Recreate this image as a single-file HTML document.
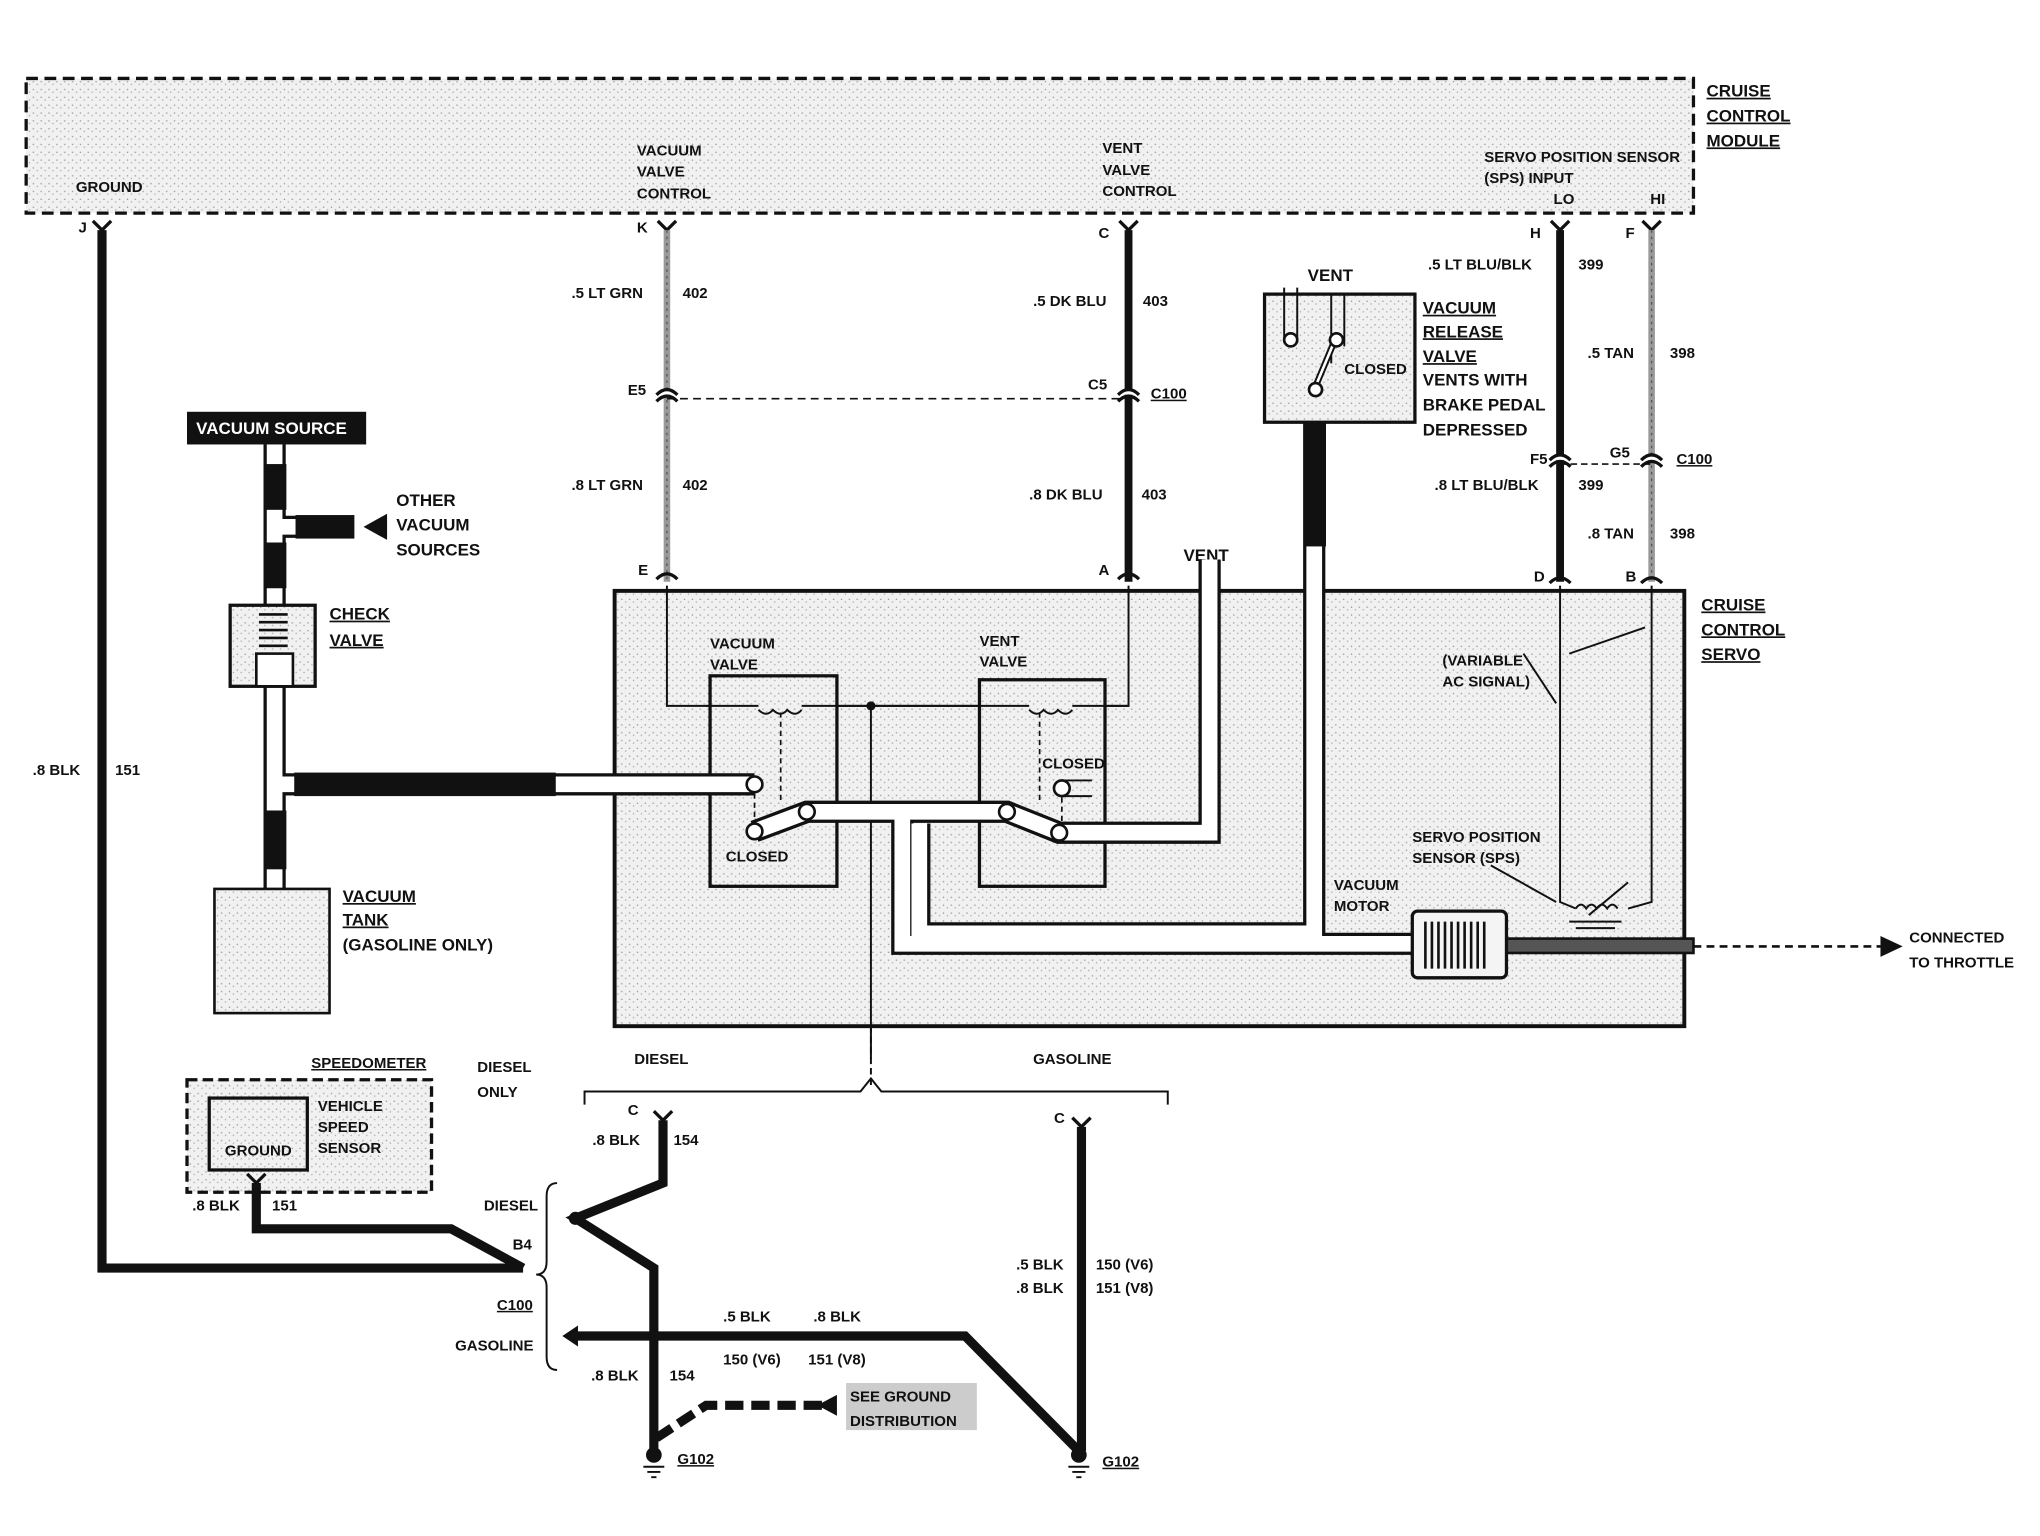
<!DOCTYPE html>
<html><head><meta charset="utf-8"><style>
html,body{margin:0;padding:0;background:#fff;}
svg{display:block;}
text{font-family:"Liberation Sans",sans-serif;font-weight:bold;font-size:11.5px;fill:#111;}
.u{text-decoration:underline;}
.big{font-size:13px;}
</style></head><body>
<svg width="2040" height="1536" viewBox="0 0 1560 1175" preserveAspectRatio="none" xmlns="http://www.w3.org/2000/svg">
<defs>
<pattern id="st" width="6" height="6" patternUnits="userSpaceOnUse"><rect width="6" height="6" fill="#f1f1f1"/><rect x="1" y="2" width="1" height="1" fill="#999"/><rect x="4" y="4" width="1" height="1" fill="#aaa"/></pattern>
</defs>
<!-- module box -->
<rect x="20" y="60" width="1275" height="103" fill="url(#st)" stroke="#111" stroke-width="2.5" stroke-dasharray="9,5"/>
<text x="1305" y="74" class="u big">CRUISE</text><text x="1305" y="93" class="u big">CONTROL</text><text x="1305" y="112" class="u big">MODULE</text>
<text x="58" y="147">GROUND</text>
<text x="487" y="119">VACUUM</text><text x="487" y="135">VALVE</text><text x="487" y="152">CONTROL</text>
<text x="843" y="117">VENT</text><text x="843" y="134">VALVE</text><text x="843" y="150">CONTROL</text>
<text x="1135" y="124">SERVO POSITION SENSOR</text><text x="1135" y="140">(SPS) INPUT</text>
<text x="1188" y="156">LO</text><text x="1262" y="156">HI</text>
<!-- pins -->
<g stroke="#111" stroke-width="2.5" fill="none">
<path d="M71,169 L78,176 L85,169"/><path d="M503,169 L510,176 L517,169"/><path d="M856,169 L863,176 L870,169"/><path d="M1186,169 L1193,176 L1200,169"/><path d="M1256,169 L1263,176 L1270,169"/>
</g>
<text x="60" y="178">J</text><text x="487" y="178">K</text><text x="840" y="182">C</text><text x="1170" y="182">H</text><text x="1243" y="182">F</text>
<!-- ground wire -->
<path d="M78,176 V970 H400" stroke="#111" stroke-width="7" fill="none"/>
<text x="25" y="593">.8 BLK</text><text x="88" y="593">151</text>
<!-- K wire -->
<line x1="510" y1="176" x2="510" y2="445" stroke="#999" stroke-width="5"/>
<line x1="510" y1="176" x2="510" y2="445" stroke="#555" stroke-width="1" stroke-dasharray="2,3"/>
<line x1="863" y1="176" x2="863" y2="445" stroke="#111" stroke-width="6"/>
<line x1="1193" y1="176" x2="1193" y2="445" stroke="#111" stroke-width="6"/>
<line x1="1263" y1="176" x2="1263" y2="445" stroke="#999" stroke-width="5"/>
<line x1="1263" y1="176" x2="1263" y2="445" stroke="#555" stroke-width="1" stroke-dasharray="2,3"/>
<text x="437" y="228">.5 LT GRN</text><text x="522" y="228">402</text>
<text x="437" y="375">.8 LT GRN</text><text x="522" y="375">402</text>
<text x="790" y="234">.5 DK BLU</text><text x="874" y="234">403</text>
<text x="787" y="382">.8 DK BLU</text><text x="873" y="382">403</text>
<line x1="510" y1="305" x2="863" y2="305" stroke="#111" stroke-width="1.2" stroke-dasharray="6,4"/>
<g stroke="#111" stroke-width="2.5" fill="#fff">
<path d="M502,302 Q510,294 518,302"/><path d="M502,307 Q510,299 518,307" fill="none"/>
<path d="M855,302 Q863,294 871,302"/><path d="M855,307 Q863,299 871,307" fill="none"/>
<path d="M1185,352 Q1193,344 1201,352"/><path d="M1185,357 Q1193,349 1201,357" fill="none"/>
<path d="M1255,352 Q1263,344 1271,352"/><path d="M1255,357 Q1263,349 1271,357" fill="none"/>
<path d="M502,443 Q510,435 518,443" fill="none"/><path d="M855,443 Q863,435 871,443" fill="none"/>
<path d="M1185,446 Q1193,438 1201,446" fill="none"/><path d="M1255,446 Q1263,438 1271,446" fill="none"/>
</g>
<text x="480" y="302">E5</text><text x="832" y="298">C5</text><text x="880" y="305" class="u">C100</text>
<text x="488" y="440">E</text><text x="840" y="440">A</text><text x="905" y="429" class="big">VENT</text>
<text x="1092" y="206">.5 LT BLU/BLK</text><text x="1207" y="206">399</text>
<text x="1214" y="274">.5 TAN</text><text x="1277" y="274">398</text>
<line x1="1193" y1="355" x2="1263" y2="355" stroke="#111" stroke-width="1.2" stroke-dasharray="5,3"/>
<text x="1170" y="355">F5</text><text x="1231" y="350">G5</text><text x="1282" y="355" class="u">C100</text>
<text x="1097" y="375">.8 LT BLU/BLK</text><text x="1207" y="375">399</text>
<text x="1214" y="412">.8 TAN</text><text x="1277" y="412">398</text>
<text x="1173" y="445">D</text><text x="1243" y="445">B</text>
<!-- servo box -->
<rect x="470" y="452" width="818" height="333" fill="url(#st)" stroke="#111" stroke-width="3"/>
<text x="1301" y="467" class="u big">CRUISE</text><text x="1301" y="486" class="u big">CONTROL</text><text x="1301" y="505" class="u big">SERVO</text>
<!-- internal wires -->
<g stroke="#111" stroke-width="1.5" fill="none">
<path d="M510,448 V540 H863 V448"/>
<line x1="666" y1="540" x2="666" y2="810"/>
<path d="M1193,448 V690 L1205,695"/><path d="M1263,448 V690 L1245,695"/>
<line x1="1200" y1="705" x2="1240" y2="705"/><line x1="1205" y1="710" x2="1235" y2="710"/>
<path d="M1205,695 q4,-6 8,0 q4,-6 8,0 q4,-6 8,0 q4,-6 8,0"/>
<line x1="1215" y1="700" x2="1245" y2="675"/>
<path d="M1165,500 L1190,538"/><path d="M1200,500 L1258,480"/><path d="M1140,662 L1190,690"/>
</g>
<circle cx="666" cy="540" r="3.5" fill="#111"/>
<!-- valve boxes -->
<rect x="543" y="517" width="97" height="161" fill="url(#st)" stroke="#111" stroke-width="2.5"/>
<rect x="749" y="520" width="96" height="158" fill="url(#st)" stroke="#111" stroke-width="2.5"/>
<path d="M580,543 q6,6 11,0 q6,6 11,0 q6,6 11,0" stroke="#111" stroke-width="1.5" fill="none"/>
<path d="M787,543 q6,6 11,0 q6,6 11,0 q6,6 11,0" stroke="#111" stroke-width="1.5" fill="none"/>
<line x1="540" y1="540" x2="580" y2="540" stroke="#111" stroke-width="1.5"/>
<line x1="613" y1="540" x2="787" y2="540" stroke="#111" stroke-width="1.5"/>
<line x1="820" y1="540" x2="863" y2="540" stroke="#111" stroke-width="1.5"/>
<g stroke="#111" stroke-width="1.3" stroke-dasharray="4,3"><line x1="597" y1="545" x2="597" y2="615"/><line x1="577" y1="607" x2="577" y2="630"/><line x1="795" y1="545" x2="795" y2="615"/><line x1="812" y1="610" x2="812" y2="630"/></g>
<text x="543" y="496">VACUUM</text><text x="543" y="512">VALVE</text><text x="749" y="494">VENT</text><text x="749" y="510">VALVE</text>
<text x="555" y="659">CLOSED</text><text x="797" y="588">CLOSED</text>
<!-- tubes -->
<g fill="none" stroke-linejoin="miter">
<g stroke="#111" stroke-width="17">
<path d="M210,340 V770"/><path d="M210,403 H270"/><path d="M210,600 H577"/>
<path d="M577,636 L617,621 H770 L810,637 H925 V428"/>
<path d="M690,622 V722 H1085"/><path d="M703,630 V714 H1005 V320"/>
</g>
<g stroke="#fff" stroke-width="12">
<path d="M210,340 V770"/><path d="M210,403 H270"/><path d="M210,600 H577"/>
<path d="M577,636 L617,621 H770 L810,637 H925 V428"/>
<path d="M690,622 V722 H1085"/><path d="M703,630 V714 H1005 V320"/>
</g>
</g>
<g fill="#111">
<rect x="202" y="355" width="17" height="35"/><rect x="202" y="415" width="17" height="35"/><rect x="226" y="394" width="45" height="18"/>
<rect x="225" y="591" width="200" height="18"/><rect x="202" y="620" width="17" height="45"/><rect x="997" y="323" width="17" height="95"/>
<polygon points="278,403 296,393 296,413"/>
</g>
<g fill="#fff" stroke="#111" stroke-width="2"><circle cx="577" cy="600" r="6"/><circle cx="577" cy="636" r="6"/><circle cx="617" cy="621" r="6"/><circle cx="770" cy="621" r="6"/><circle cx="810" cy="637" r="6"/><circle cx="812" cy="603" r="6"/></g>
<line x1="812" y1="597" x2="835" y2="597" stroke="#111" stroke-width="1.5"/><line x1="812" y1="609" x2="835" y2="609" stroke="#111" stroke-width="1.5"/>
<!-- vacuum source -->
<rect x="143" y="315" width="137" height="25" fill="#111"/>
<text x="150" y="332" style="fill:#fff" class="big">VACUUM SOURCE</text>
<text x="303" y="387" class="big">OTHER</text><text x="303" y="406" class="big">VACUUM</text><text x="303" y="425" class="big">SOURCES</text>
<rect x="176" y="463" width="65" height="62" fill="url(#st)" stroke="#111" stroke-width="2.5"/>
<rect x="196" y="500" width="28" height="25" fill="#fff" stroke="#111" stroke-width="2"/>
<path d="M198,470 h22 M198,476 h22 M198,482 h22 M198,488 h22 M198,494 h22" stroke="#111" stroke-width="2"/>
<text x="252" y="474" class="u big">CHECK</text><text x="252" y="494" class="u big">VALVE</text>
<rect x="164" y="680" width="88" height="95" fill="url(#st)" stroke="#111" stroke-width="2"/>
<text x="262" y="690" class="u big">VACUUM</text><text x="262" y="708" class="u big">TANK</text><text x="262" y="727" class="big">(GASOLINE ONLY)</text>
<!-- release valve -->
<rect x="967" y="225" width="115" height="98" fill="url(#st)" stroke="#111" stroke-width="2.5"/>
<path d="M982,262 V220 M992,262 V220 M1018,278 V225 M1028,265 V225" stroke="#111" stroke-width="1.5"/>
<line x1="1020" y1="262" x2="1005" y2="298" stroke="#111" stroke-width="5"/><line x1="1020" y1="262" x2="1005" y2="298" stroke="#fff" stroke-width="2"/>
<g fill="#fff" stroke="#111" stroke-width="2"><circle cx="987" cy="260" r="5"/><circle cx="1022" cy="260" r="5"/><circle cx="1006" cy="298" r="5"/></g>
<text x="1000" y="215" class="big">VENT</text><text x="1028" y="286">CLOSED</text>
<text x="1088" y="240" class="u big">VACUUM</text><text x="1088" y="258" class="u big">RELEASE</text><text x="1088" y="277" class="u big">VALVE</text>
<text x="1088" y="295" class="big">VENTS WITH</text><text x="1088" y="314" class="big">BRAKE PEDAL</text><text x="1088" y="333" class="big">DEPRESSED</text>
<text x="1103" y="509">(VARIABLE</text><text x="1103" y="525">AC SIGNAL)</text>
<text x="1080" y="644">SERVO POSITION</text><text x="1080" y="660">SENSOR (SPS)</text>
<text x="1020" y="681">VACUUM</text><text x="1020" y="697">MOTOR</text>
<!-- motor -->
<rect x="1150" y="718" width="145" height="11" fill="#555" stroke="#111" stroke-width="2"/>
<rect x="1080" y="697" width="72" height="51" fill="#f4f4f4" stroke="#111" stroke-width="2.5" rx="4"/>
<path d="M1090,705 v36 M1095,705 v36 M1100,705 v36 M1105,705 v36 M1110,705 v36 M1115,705 v36 M1120,705 v36 M1125,705 v36 M1130,705 v36 M1135,705 v36" stroke="#111" stroke-width="2"/>
<line x1="1295" y1="724" x2="1438" y2="724" stroke="#111" stroke-width="2" stroke-dasharray="6,4"/>
<polygon points="1455,724 1438,716 1438,732" fill="#111"/>
<text x="1460" y="721">CONNECTED</text><text x="1460" y="740">TO THROTTLE</text>
<!-- split -->
<line x1="666" y1="785" x2="666" y2="830" stroke="#111" stroke-width="1.5" stroke-dasharray="5,3"/>
<path d="M447,845 V835 H658 L666,825 L674,835 H893 V845" stroke="#111" stroke-width="1.5" fill="none"/>
<text x="485" y="814">DIESEL</text><text x="790" y="814">GASOLINE</text>
<!-- speedometer -->
<rect x="143" y="826" width="187" height="86" fill="url(#st)" stroke="#111" stroke-width="2.5" stroke-dasharray="8,4"/>
<rect x="160" y="840" width="75" height="55" fill="url(#st)" stroke="#111" stroke-width="2.5"/>
<text x="238" y="817" class="u">SPEEDOMETER</text><text x="243" y="850">VEHICLE</text><text x="243" y="866">SPEED</text><text x="243" y="882">SENSOR</text>
<text x="172" y="884">GROUND</text><text x="365" y="820">DIESEL</text><text x="365" y="839">ONLY</text>
<path d="M189,898 L196,905 L203,898" stroke="#111" stroke-width="2.5" fill="none"/>
<path d="M196,905 V940 H345 L400,970" stroke="#111" stroke-width="7" fill="none"/>
<text x="147" y="926">.8 BLK</text><text x="208" y="926">151</text>
<path d="M426,905 Q418,905 418,915 V965 Q418,975 410,975 Q418,975 418,985 V1038 Q418,1048 426,1048" stroke="#111" stroke-width="1.5" fill="none"/>
<text x="370" y="926">DIESEL</text><text x="392" y="956">B4</text><text x="380" y="1002" class="u">C100</text><text x="348" y="1033">GASOLINE</text>
<!-- diesel wire -->
<path d="M500,850 L507,857 L514,850" stroke="#111" stroke-width="2.5" fill="none"/><text x="480" y="853">C</text>
<path d="M507,857 V905 L440,932 L500,970 V1110" stroke="#111" stroke-width="7" fill="none"/>
<circle cx="440" cy="932" r="5" fill="#111"/>
<text x="453" y="876">.8 BLK</text><text x="515" y="876">154</text>
<path d="M820,855 L827,862 L834,855" stroke="#111" stroke-width="2.5" fill="none"/><text x="806" y="859">C</text>
<path d="M827,862 V1110" stroke="#111" stroke-width="7" fill="none"/>
<text x="777" y="971">.5 BLK</text><text x="838" y="971">150 (V6)</text><text x="777" y="989">.8 BLK</text><text x="838" y="989">151 (V8)</text>
<path d="M442,1022 H738 L825,1110" stroke="#111" stroke-width="7" fill="none"/>
<polygon points="430,1022 442,1014 442,1030" fill="#111"/>
<text x="553" y="1011">.5 BLK</text><text x="622" y="1011">.8 BLK</text><text x="553" y="1044">150 (V6)</text><text x="618" y="1044">151 (V8)</text>
<text x="452" y="1056">.8 BLK</text><text x="512" y="1056">154</text>
<path d="M502,1100 L540,1075 H630" stroke="#111" stroke-width="7" stroke-dasharray="14,6" fill="none"/>
<polygon points="625,1075 640,1067 640,1083" fill="#111"/>
<rect x="647" y="1058" width="100" height="36" fill="#ccc"/>
<text x="650" y="1072">SEE GROUND</text><text x="650" y="1091">DISTRIBUTION</text>
<g fill="#111"><circle cx="500" cy="1113" r="6"/><circle cx="825" cy="1113" r="6"/></g>
<path d="M492,1122 h16 M495,1126 h10 M498,1130 h4 M817,1122 h16 M820,1126 h10 M823,1130 h4" stroke="#111" stroke-width="1.5"/>
<text x="518" y="1120" class="u">G102</text><text x="843" y="1122" class="u">G102</text>
</svg>
</body></html>
